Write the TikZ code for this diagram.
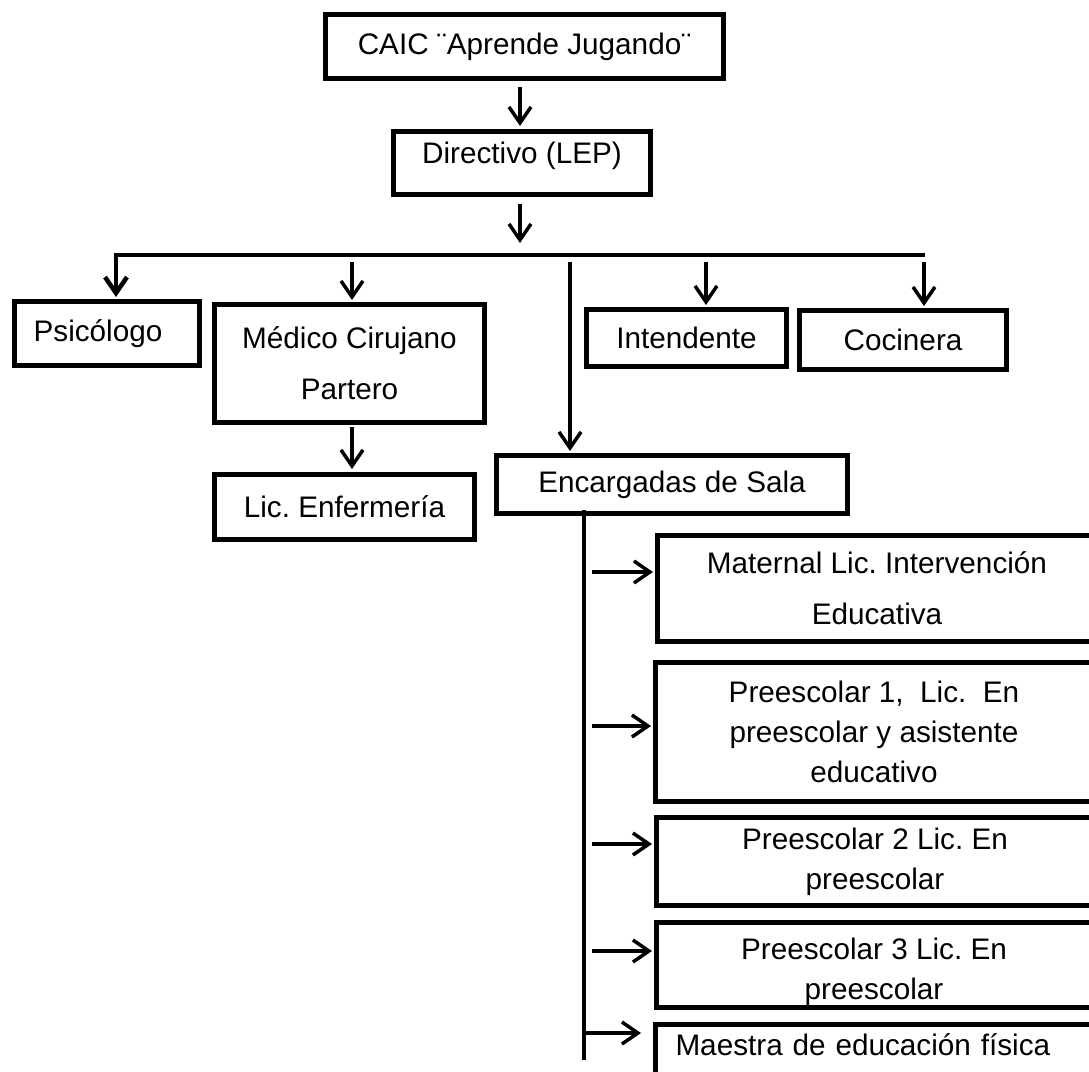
\documentclass[tikz,border=0pt]{standalone}
\usepackage{fontspec}
\setmainfont{Liberation Sans}
\usetikzlibrary{arrows.meta}
\tikzstyle{unit}=[draw,line width=5pt,inner sep=0pt,align=center,font=\fontsize{29.7}{51}\selectfont]
\tikzstyle{room}=[unit,font=\fontsize{29.7}{40}\selectfont]
\tikzstyle{link}=[line width=3.5pt,-{Straight Barb[length=16pt,width=22pt]}]
\frenchspacing

\begin{document}
\begin{tikzpicture}[x=1pt,y=-1pt]
            \clip (0,0) rectangle (1089,1071);
            \path
                node[unit,minimum width=398,minimum height=64] (caic) at (524.5,46.5) {CAIC ¨Aprende Jugando¨}
                node[unit,minimum width=257,minimum height=63,text depth=20pt] (dir) at (522,163) {Directivo (LEP)}
                node[unit,minimum width=185,minimum height=64] (psi) at (107,333.5) {Psicólogo\hspace*{18pt}}
                node[unit,minimum width=270,minimum height=118] (med) at (349.5,363.5) {Médico Cirujano\\Partero}
                node[unit,minimum width=260,minimum height=65] (lic) at (344.5,507) {Lic. Enfermería}
                node[unit,minimum width=200,minimum height=57] (int) at (686.5,338) {Intendente}
                node[unit,minimum width=207,minimum height=59] (coc) at (903,340) {Cocinera}
                node[unit,minimum width=351,minimum height=58] (enc) at (672,484.5) {Encargadas de Sala}
                ;
            % salas
            \path
                node[unit,minimum width=439,minimum height=106] (mat) at (877,588.5) {Maternal Lic. Intervención\\Educativa}
                node[room,minimum width=437,minimum height=139] (pre1) at (874,732) {Preescolar 1,\ \ Lic.\ \ En\\preescolar y asistente\\educativo}
                node[room,minimum width=437,minimum height=88] (pre2) at (875,861.5) {Preescolar 2 Lic. En\\preescolar}
                node[room,minimum width=435,minimum height=85] (pre3) at (874,965) {\rule{0pt}{35pt}Preescolar 3 Lic. En\\preescolar}
                node[unit,text width=415pt,align=left,inner xsep=20pt,minimum height=60,text depth=19pt] (mae) at (883,1054.5) {Maestra de educación física}
                ;
            \coordinate (hub) at (520,255);
            \coordinate (barL) at (116,255);
            \coordinate (barR) at (925,255);
            \draw[link,shorten <=6pt,shorten >=3pt] (caic.south -| hub) -- (dir.north -| hub);
            \draw[link,shorten <=7pt,shorten >=12pt] (dir.south -| hub) -- (hub);
            \draw[link,line width=4.5pt,shorten >=2pt] (barR) -- (barL) -- (barL |- psi.north);
            \foreach \t/\x in {med/352,enc/570,int/706,coc/924}{
                \coordinate (tap-\t) at (\x,255);
                \draw[link,shorten <=7pt,shorten >=2pt] (tap-\t) -- (tap-\t |- \t.north);
            }
            \draw[link,shorten <=2pt,shorten >=3pt] (med.south -| tap-med) -- (lic.north -| tap-med);
            % linea de salas
            \coordinate (spine) at (584,1060);
            \draw[line width=4pt,shorten <=-6pt] (enc.south -| spine) -- (spine);
            \foreach \t/\y in {mat/572,pre1/726,pre2/844,pre3/951}{
                \coordinate (gap-\t) at (592,\y);
                \draw[link,shorten >=2pt] (gap-\t) -- (gap-\t -| \t.west);
            }
            \coordinate (spine-mae) at (584,1033);
            \draw[link,shorten >=12pt] (spine-mae) -- (spine-mae -| mae.west);
        \end{tikzpicture}
\end{document}
